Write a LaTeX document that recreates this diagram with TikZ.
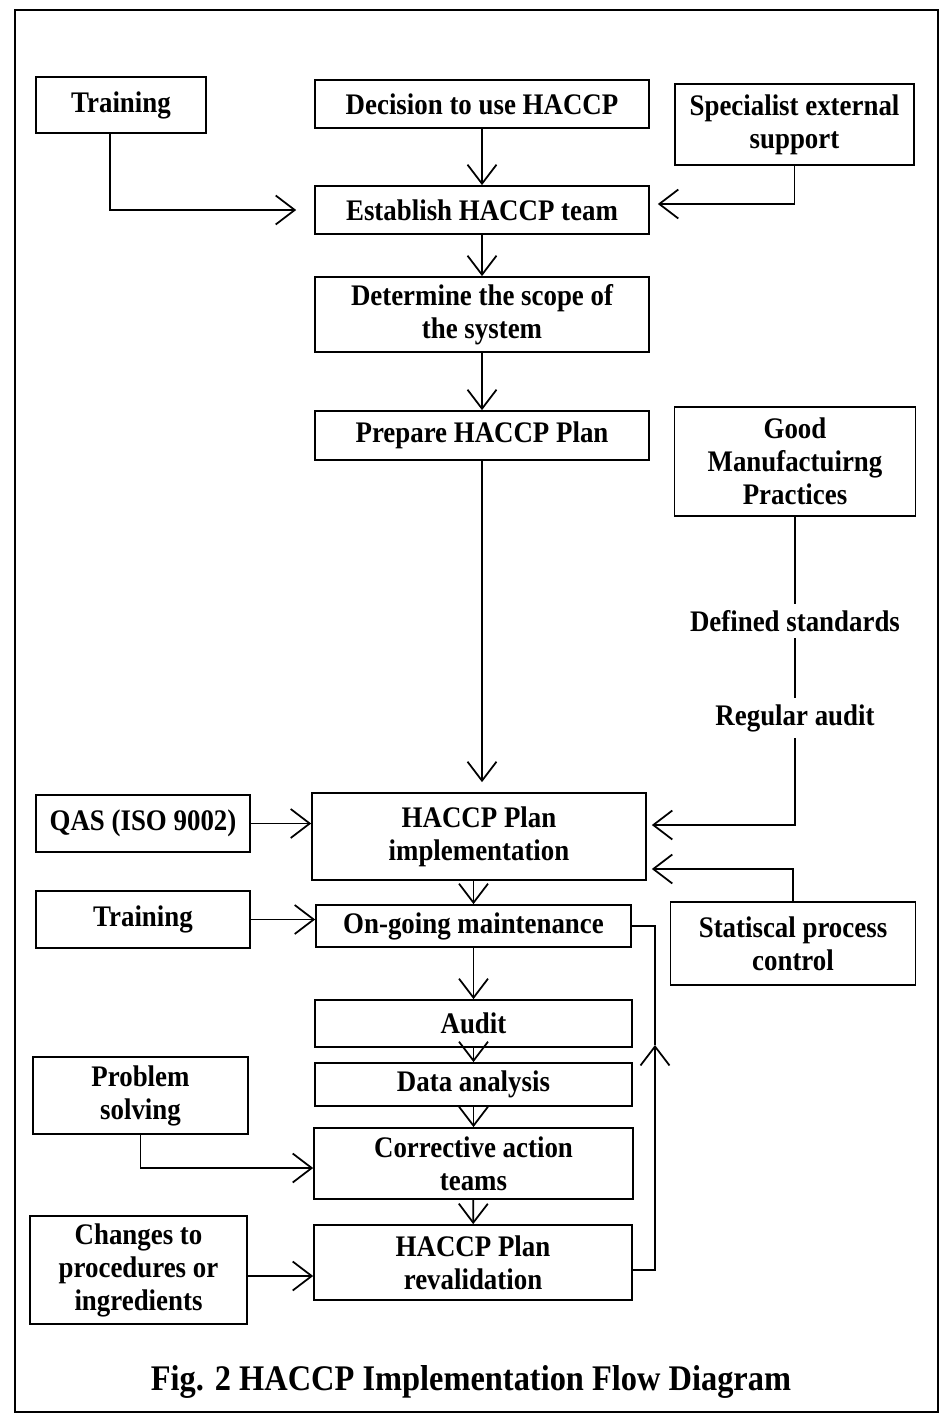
\documentclass[tikz,border=0pt]{standalone}
\usepackage{fontspec}
\setmainfont[FakeStretch=0.9]{Liberation Serif}
\usetikzlibrary{arrows.meta}
\begin{document}
\begin{tikzpicture}[x=0.02cm, y=-0.02cm, line width=1pt,
    >={Straight Barb[length=0.38cm, width=0.58cm]},
    box/.style={draw, align=center, inner sep=0pt, font=\bfseries\fontsize{17}{18.8}\selectfont},
    txt/.style={align=center, font=\bfseries\fontsize{17}{18.8}\selectfont}]
  \useasboundingbox (0,0) rectangle (946,1422);
  \draw (15,10) rectangle (938,1412);

  \node[box, minimum width=3.4cm, minimum height=1.12cm] (train1) at (121,105) {Training};
  \node[box, minimum width=6.68cm, minimum height=0.96cm] (decide) at (482,104) {Decision to use HACCP};
  \node[box, minimum width=4.78cm, minimum height=1.62cm] (special) at (794.5,124.5) {Specialist external\\support};
  \node[box, minimum width=6.68cm, minimum height=0.96cm] (establish) at (482,210) {Establish HACCP team};
  \node[box, minimum width=6.68cm, minimum height=1.5cm] (scope) at (482,314.5) {Determine the scope of\\the system};
  \node[box, minimum width=6.68cm, minimum height=0.98cm] (prepare) at (482,435.5) {Prepare HACCP Plan};
  \node[box, minimum width=4.82cm, minimum height=2.18cm] (gmp) at (795,461.5) {Good\\Manufactuirng\\Practices};
  \node[txt] (defstd) at (795,621) {Defined standards};
  \node[txt] (regaudit) at (795,718) {Regular audit};
  \node[box, minimum width=6.68cm, minimum height=1.74cm] (impl) at (479,836.5) {HACCP Plan\\implementation};
  \node[box, minimum width=4.28cm, minimum height=1.14cm] (qas) at (143,823.5) {QAS (ISO 9002)};
  \node[box, minimum width=4.28cm, minimum height=1.14cm] (train2) at (143,919.5) {Training};
  \node[box, minimum width=6.3cm, minimum height=0.84cm] (ongoing) at (473.5,926) {On-going maintenance};
  \node[box, minimum width=4.9cm, minimum height=1.66cm] (spc) at (793,943.5) {Statiscal process\\control};
  \node[box, minimum width=6.34cm, minimum height=0.94cm] (audit) at (473.5,1023.5) {Audit};
  \node[box, minimum width=6.34cm, minimum height=0.86cm] (data) at (473.5,1084.5) {Data analysis};
  \node[box, minimum width=6.38cm, minimum height=1.42cm] (corrective) at (473.5,1163.5) {Corrective action\\teams};
  \node[box, minimum width=6.36cm, minimum height=1.5cm] (reval) at (473,1262.5) {HACCP Plan\\revalidation};
  \node[box, minimum width=4.3cm, minimum height=1.54cm] (problem) at (140.5,1095.5) {Problem\\solving};
  \node[box, minimum width=4.34cm, minimum height=2.16cm] (changes) at (138.5,1270) {Changes to\\procedures or\\ingredients};
  \node[font=\bfseries\fontsize{20.5}{24}\selectfont] (caption) at (471,1382) {Fig. 2 HACCP Implementation Flow Diagram};
  \coordinate (up) at (655,1045);

  \draw[->] (decide) -- (establish);
  \draw[->, shorten >=0.36cm] ([xshift=-0.22cm]train1.south) |- (establish.west);
  \draw[->, shorten >=0.16cm] (special.south) |- ([yshift=0.12cm]establish.east);
  \draw[->] (establish) -- (scope);
  \draw[->] (scope) -- (prepare);
  \draw[->, shorten >=0.2cm] (prepare) -- (prepare |- impl.north);
  \draw (gmp) -- (defstd);
  \draw (defstd) -- (regaudit);
  \draw[->, shorten >=0.1cm] (regaudit) |- ([yshift=0.23cm]impl.east);
  \draw[->, shorten >=0.1cm] (spc) |- ([yshift=-0.65cm]impl.east);
  \draw[->] (qas.east) -- (qas.east -| impl.west);
  \draw[->] (train2.east) -- (train2.east -| ongoing.west);
  \draw[->] (ongoing.north |- impl.south) -- (ongoing.north);
  \draw[->] (ongoing) -- (audit);
  \draw[->] (audit) -- (data);
  \draw[->] (data) -- (corrective);
  \draw[->] (corrective) -- (reval);
  \draw[->] (problem.south) |- ([yshift=-0.09cm]corrective.west);
  \draw[->] ([yshift=-0.12cm]changes.east) -- ([yshift=-0.27cm]reval.west);
  \draw[->] ([yshift=-0.15cm]reval.east) -| (up);
  \draw (up) |- (ongoing.east);
\end{tikzpicture}
\end{document}
